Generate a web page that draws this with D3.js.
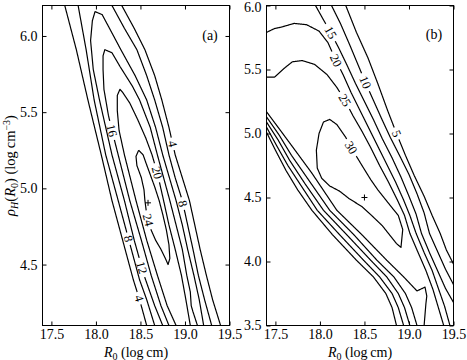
<!DOCTYPE html>
<html>
<head>
<meta charset="utf-8">
<script src="https://cdn.jsdelivr.net/npm/d3@7"></script>
<style>
  body { margin: 0; background: #fff; }
</style>
</head>
<body>
<svg id="chart" width="467" height="360"></svg>
<script>
// axes
const xDomain = [17.4, 19.5];
const xTicks = [17.5, 18.0, 18.5, 19.0, 19.5];
const yDomainA = [4.1, 6.2];
const yTicksA = [4.5, 5.0, 5.5, 6.0];
const yDomainB = [3.5, 6.0];
const yTicksB = [3.5, 4.0, 4.5, 5.0, 5.5, 6.0];

// panel (a) contour lines, points are [R0, rhoH]
const a4Left = [[17.65,6.2],[17.78,5.91],[17.91,5.58],[18.06,5.22],[18.18,4.92],[18.30,4.66],[18.42,4.40],[18.49,4.27],[18.57,4.1]];
const a8Left = [[17.80,6.2],[17.89,5.91],[17.98,5.58],[18.11,5.22],[18.25,4.92],[18.37,4.66],[18.49,4.40],[18.57,4.27],[18.66,4.1]];
const a12 = [[18.75,4.1],[18.66,4.23],[18.54,4.43],[18.43,4.66],[18.32,4.92],[18.18,5.22],[18.04,5.58],[17.97,5.78],[17.94,5.97],[17.96,6.10],[17.99,6.16],[18.07,6.14],[18.18,6.02],[18.28,5.91],[18.44,5.74],[18.57,5.58],[18.67,5.40],[18.75,5.22],[18.90,4.92],[18.97,4.76],[19.03,4.60],[19.10,4.43],[19.16,4.27],[19.21,4.1]];
const a16 = [[18.82,4.1],[18.73,4.23],[18.62,4.43],[18.51,4.66],[18.38,4.92],[18.25,5.22],[18.18,5.38],[18.14,5.48],[18.09,5.65],[18.08,5.78],[18.08,5.87],[18.10,5.91],[18.18,5.89],[18.27,5.80],[18.41,5.67],[18.49,5.58],[18.61,5.40],[18.69,5.22],[18.83,4.92],[18.97,4.60],[19.02,4.43],[19.06,4.32],[19.07,4.23],[19.09,4.19],[19.14,4.1]];
const a20 = [[18.90,4.1],[18.80,4.23],[18.69,4.43],[18.57,4.66],[18.45,4.92],[18.32,5.22],[18.26,5.38],[18.24,5.51],[18.24,5.61],[18.27,5.65],[18.30,5.63],[18.38,5.56],[18.47,5.45],[18.56,5.33],[18.63,5.22],[18.69,5.10],[18.76,4.92],[18.82,4.76],[18.89,4.60],[18.96,4.43],[19.01,4.27],[19.06,4.1]];
const a24 = [[18.48,5.25],[18.45,5.21],[18.46,5.15],[18.51,5.07],[18.54,4.99],[18.55,4.92],[18.57,4.83],[18.61,4.74],[18.67,4.66],[18.73,4.60],[18.78,4.54],[18.81,4.50],[18.83,4.54],[18.82,4.63],[18.79,4.73],[18.75,4.83],[18.71,4.92],[18.66,5.01],[18.61,5.09],[18.56,5.17],[18.53,5.22],[18.48,5.25]];
const a8Right = [[18.18,6.2],[18.32,6.05],[18.46,5.91],[18.57,5.74],[18.66,5.58],[18.75,5.40],[18.82,5.22],[18.89,5.07],[18.97,4.92],[19.03,4.76],[19.09,4.60],[19.15,4.43],[19.22,4.27],[19.30,4.1]];
const a4Right = [[18.29,6.2],[18.43,6.05],[18.55,5.91],[18.66,5.74],[18.74,5.58],[18.82,5.40],[18.89,5.22],[18.97,5.07],[19.05,4.92],[19.11,4.76],[19.17,4.60],[19.24,4.43],[19.31,4.27],[19.40,4.1]];
const aPeak = [18.585, 4.905];

// panel (b) contour lines
const b5 = [[18.29,6.0],[18.41,5.79],[18.54,5.59],[18.65,5.39],[18.76,5.18],[18.86,5.00],[18.96,4.83],[19.06,4.67],[19.17,4.51],[19.26,4.36],[19.35,4.22],[19.42,4.09],[19.5,3.98]];
const b10 = [[18.13,6.0],[18.23,5.86],[18.33,5.70],[18.42,5.55],[18.51,5.40],[18.60,5.26],[18.69,5.12],[18.79,4.97],[18.90,4.82],[19.00,4.68],[19.09,4.53],[19.17,4.38],[19.23,4.22],[19.32,4.08],[19.41,3.94],[19.5,3.82]];
const b15 = [[17.95,6.0],[18.03,5.90],[18.12,5.79],[18.21,5.67],[18.30,5.54],[18.40,5.39],[18.50,5.25],[18.60,5.11],[18.70,4.96],[18.81,4.81],[18.91,4.66],[19.00,4.51],[19.08,4.37],[19.14,4.22],[19.23,4.07],[19.32,3.93],[19.41,3.79],[19.5,3.68]];
const b20 = [[17.4,5.79],[17.49,5.82],[17.56,5.83],[17.71,5.86],[17.85,5.85],[17.99,5.80],[18.09,5.71],[18.18,5.57],[18.26,5.46],[18.35,5.32],[18.45,5.18],[18.55,5.04],[18.65,4.90],[18.75,4.76],[18.85,4.62],[18.94,4.48],[19.01,4.36],[19.08,4.22],[19.17,4.07],[19.26,3.93],[19.33,3.79],[19.40,3.65],[19.46,3.5]];
const b25 = [[17.4,5.44],[17.49,5.44],[17.60,5.51],[17.69,5.56],[17.80,5.57],[17.94,5.54],[18.08,5.46],[18.19,5.36],[18.28,5.26],[18.37,5.14],[18.47,5.02],[18.57,4.89],[18.67,4.75],[18.77,4.62],[18.87,4.48],[18.95,4.36],[19.01,4.22],[19.09,4.09],[19.19,3.93],[19.27,3.78],[19.33,3.64],[19.39,3.5]];
const b30 = [[18.35,4.89],[18.42,4.81],[18.49,4.73],[18.57,4.64],[18.65,4.56],[18.73,4.49],[18.81,4.42],[18.88,4.36],[18.93,4.25],[18.91,4.11],[18.86,4.14],[18.78,4.21],[18.70,4.28],[18.58,4.36],[18.47,4.43],[18.33,4.49],[18.22,4.55],[18.11,4.59],[18.02,4.65],[17.97,4.73],[17.96,4.87],[17.99,5.00],[18.04,5.09],[18.11,5.11],[18.19,5.07],[18.29,4.97],[18.35,4.89]];
const b5Low = [[17.4,5.01],[17.50,4.87],[17.62,4.71],[17.75,4.56],[17.91,4.40],[18.14,4.21],[18.41,4.01],[18.60,3.88],[18.74,3.75],[18.81,3.64],[18.86,3.5]];
const b10Low = [[17.4,5.05],[17.51,4.91],[17.64,4.75],[17.80,4.58],[17.97,4.40],[18.22,4.21],[18.49,4.01],[18.67,3.88],[18.81,3.75],[18.88,3.64],[18.94,3.5]];
const b15Low = [[17.4,5.09],[17.53,4.95],[17.66,4.79],[17.83,4.61],[18.04,4.40],[18.30,4.21],[18.57,4.01],[18.75,3.88],[18.88,3.75],[18.95,3.64],[19.01,3.5]];
const b20Low = [[17.4,5.13],[17.54,4.99],[17.68,4.83],[17.86,4.65],[18.11,4.40],[18.38,4.21],[18.64,4.01],[18.83,3.88],[18.96,3.75],[19.03,3.64],[19.09,3.5]];
const b25Low = [[17.4,5.17],[17.55,5.03],[17.72,4.87],[17.91,4.69],[18.19,4.40],[18.47,4.21],[18.75,4.01],[18.94,3.88],[19.09,3.77],[19.18,3.80],[19.20,3.73],[19.19,3.67],[19.17,3.5]];
const bPeak = [18.5, 4.5];

// inline contour labels
const aLabels = [
  { line: "a4Right", text: "4", at: [18.85, 5.29] },
  { line: "a8Right", text: "8", at: [18.97, 4.90] },
  { line: "a16", text: "16", at: [18.18, 5.38] },
  { line: "a20", text: "20", at: [18.68, 5.10] },
  { line: "a24", text: "24", at: [18.57, 4.79] },
  { line: "a8Left", text: "8", at: [18.37, 4.67] },
  { line: "a12", text: "12", at: [18.51, 4.48] },
  { line: "a4Left", text: "4", at: [18.49, 4.28] }
];
const bLabels = [
  { line: "b15", text: "15", at: [18.12, 5.79] },
  { line: "b20", text: "20", at: [18.18, 5.57] },
  { line: "b25", text: "25", at: [18.28, 5.26] },
  { line: "b10", text: "10", at: [18.51, 5.40] },
  { line: "b5", text: "5", at: [18.86, 5.00] },
  { line: "b30", text: "30", at: [18.35, 4.89] }
];

const serif = '"Liberation Serif", "Times New Roman", serif';
const svg = d3.select("#chart");
const pw = 187, ph = 320, plotTop = 5.5;

// split a pixel polyline into small steps so label gaps can be cut out
function densify(pts) {
  const out = [];
  for (let i = 0; i < pts.length - 1; i++) {
    const [x0, y0] = pts[i], [x1, y1] = pts[i + 1];
    const n = Math.max(1, Math.ceil(Math.hypot(x1 - x0, y1 - y0) / 0.5));
    for (let j = 0; j < n; j++) out.push([x0 + (x1 - x0) * j / n, y0 + (y1 - y0) * j / n]);
  }
  out.push(pts[pts.length - 1]);
  return out;
}

function drawPanel(p) {
  const x = d3.scaleLinear().domain(xDomain).range([p.left, p.left + pw]);
  const y = d3.scaleLinear().domain(p.yDomain).range([plotTop + ph, plotTop]);
  const g = svg.append("g");

  svg.append("clipPath").attr("id", "clip-" + p.tag)
    .append("rect").attr("x", p.left).attr("y", plotTop).attr("width", pw).attr("height", ph);

  const cg = g.append("g").attr("clip-path", "url(#clip-" + p.tag + ")");
  const lg = g.append("g");
  const line = d3.line();

  p.lines.forEach(ln => {
    const dense = densify(ln.pts.map(d => [x(d[0]), y(d[1])]));
    const keep = dense.map(() => true);
    p.labels.filter(l => l.line === ln.name).forEach(l => {
      const pt = [x(l.at[0]), y(l.at[1])];
      const k = d3.minIndex(dense, q => (q[0] - pt[0]) ** 2 + (q[1] - pt[1]) ** 2);
      const c = dense[k];
      const a = dense[Math.max(0, k - 8)], b = dense[Math.min(dense.length - 1, k + 8)];
      let ang = Math.atan2(b[1] - a[1], b[0] - a[0]) * 180 / Math.PI;
      if (ang > 90) ang -= 180;
      if (ang < -90) ang += 180;
      const r = l.text.length * 3.5 + 2.5;
      dense.forEach((q, i) => { if (Math.hypot(q[0] - c[0], q[1] - c[1]) < r) keep[i] = false; });
      lg.append("text")
        .attr("transform", "translate(" + c[0] + "," + c[1] + ") rotate(" + ang + ")")
        .attr("text-anchor", "middle")
        .attr("dy", "0.34em")
        .style("font-family", serif)
        .style("font-size", "12.5px")
        .text(l.text);
    });
    const runs = [];
    let run = [];
    dense.forEach((q, i) => {
      if (keep[i]) run.push(q);
      else { if (run.length > 1) runs.push(run); run = []; }
    });
    if (run.length > 1) runs.push(run);
    runs.forEach(rn => {
      cg.append("path")
        .attr("d", line(rn))
        .attr("fill", "none")
        .attr("stroke", "#000")
        .attr("stroke-width", 1.2)
        .attr("stroke-linejoin", "round");
    });
  });

  // maximum marker
  const px = x(p.peak[0]), py = y(p.peak[1]);
  g.append("path")
    .attr("d", "M" + (px - 3) + "," + py + "H" + (px + 3) + "M" + px + "," + (py - 3) + "V" + (py + 3))
    .attr("stroke", "#000").attr("stroke-width", 1);

  // axes, ticks inward on all sides
  const gx = svg.append("g").attr("transform", "translate(0," + (plotTop + ph) + ")")
    .call(d3.axisBottom(x).tickValues(xTicks).tickFormat(d3.format(".1f"))
      .tickSizeInner(-4).tickSizeOuter(0).tickPadding(4));
  const gxt = svg.append("g").attr("transform", "translate(0," + plotTop + ")")
    .call(d3.axisTop(x).tickValues(xTicks).tickFormat(() => "")
      .tickSizeInner(-4).tickSizeOuter(0));
  const gy = svg.append("g").attr("transform", "translate(" + p.left + ",0)")
    .call(d3.axisLeft(y).tickValues(p.yTicks).tickFormat(d3.format(".1f"))
      .tickSizeInner(-4).tickSizeOuter(0).tickPadding(5));
  const gyr = svg.append("g").attr("transform", "translate(" + (p.left + pw) + ",0)")
    .call(d3.axisRight(y).tickValues(p.yTicks).tickFormat(() => "")
      .tickSizeInner(-4).tickSizeOuter(0));
  [gx, gxt, gy, gyr].forEach(a => {
    a.select(".domain").remove();
    a.attr("font-family", serif).attr("font-size", 14);
    a.selectAll("text").attr("fill", "#000");
  });
  // keep the top y label inside the picture
  gy.selectAll(".tick text").filter(d => d === p.yDomain[1]).attr("dy", "0.42em");

  svg.append("rect")
    .attr("x", p.left).attr("y", plotTop).attr("width", pw).attr("height", ph)
    .attr("fill", "none").attr("stroke", "#000").attr("stroke-width", 1);

  // panel tag
  svg.append("text")
    .attr("x", p.tagPos[0]).attr("y", p.tagPos[1])
    .attr("text-anchor", "middle")
    .style("font-family", serif).style("font-size", "14px")
    .text("(" + p.tag + ")");

  // x label
  const xl = svg.append("text")
    .attr("x", p.left + pw / 2).attr("y", 357)
    .attr("text-anchor", "middle")
    .style("font-family", serif).style("font-size", "14px");
  xl.append("tspan").style("font-style", "italic").text("R");
  xl.append("tspan").attr("dy", 2.5).style("font-size", "10px").text("0");
  xl.append("tspan").attr("dy", -2.5).text(" (log\u2009cm)");
}

drawPanel({
  tag: "a", left: 42.5, yDomain: yDomainA, yTicks: yTicksA, peak: aPeak,
  tagPos: [210, 40], labels: aLabels,
  lines: [
    { name: "a4Left", pts: a4Left }, { name: "a8Left", pts: a8Left },
    { name: "a12", pts: a12 }, { name: "a16", pts: a16 },
    { name: "a20", pts: a20 }, { name: "a24", pts: a24 },
    { name: "a8Right", pts: a8Right }, { name: "a4Right", pts: a4Right }
  ]
});

drawPanel({
  tag: "b", left: 266.5, yDomain: yDomainB, yTicks: yTicksB, peak: bPeak,
  tagPos: [434, 39], labels: bLabels,
  lines: [
    { name: "b5", pts: b5 }, { name: "b10", pts: b10 }, { name: "b15", pts: b15 },
    { name: "b20", pts: b20 }, { name: "b25", pts: b25 }, { name: "b30", pts: b30 },
    { name: "b5Low", pts: b5Low }, { name: "b10Low", pts: b10Low },
    { name: "b15Low", pts: b15Low }, { name: "b20Low", pts: b20Low },
    { name: "b25Low", pts: b25Low }
  ]
});

// y label (shared)
const yl = svg.append("text")
  .attr("transform", "translate(15,165.5) rotate(-90)")
  .attr("text-anchor", "middle")
  .style("font-family", serif).style("font-size", "14.5px");
yl.append("tspan").style("font-style", "italic").text("\u03c1");
yl.append("tspan").attr("dy", 3).style("font-size", "10px").style("font-style", "italic").text("H");
yl.append("tspan").attr("dy", -3).text("(");
yl.append("tspan").style("font-style", "italic").text("R");
yl.append("tspan").attr("dy", 3).style("font-size", "10px").text("0");
yl.append("tspan").attr("dy", -3).text(") (log\u2009cm");
yl.append("tspan").attr("dy", -5).style("font-size", "10px").text("\u22123");
yl.append("tspan").attr("dy", 5).text(")");
</script>
</body>
</html>
